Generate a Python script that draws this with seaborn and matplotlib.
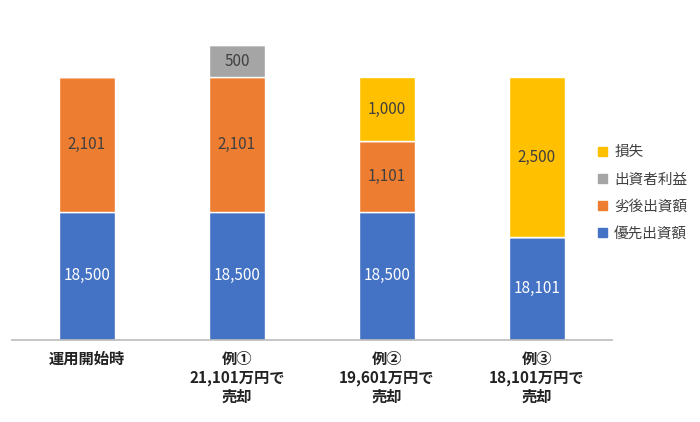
import matplotlib
matplotlib.use("Agg")
import matplotlib.pyplot as plt
import seaborn as sns
import numpy as np
import pandas as pd

categories = ["運用開始時", "例①\n21,101万円で\n売却", "例②\n19,601万円で\n売却", "例③\n18,101万円で\n売却"]
senior = [18500, 18500, 18500, 18101]
junior = [2101, 2101, 1101, 0]
profit = [0, 500, 0, 0]
loss = [0, 0, 1000, 2500]
series_names = ["優先出資額", "劣後出資額", "出資者利益", "損失"]
colors = ["#4472C4", "#ED7D31", "#A5A5A5", "#FFC000"]
text_colors = ["white", "#404040", "#404040", "#404040"]

sns.set_theme(style="white")
plt.rcParams['font.family'] = ['Noto Sans CJK JP', 'DejaVu Sans']

fig = plt.figure(figsize=(7, 4.22), dpi=100)
ax = fig.add_axes([12/700, 1-340/422, 600/700, (340-45)/422])

layers = [senior, junior, profit, loss]
bottom = np.zeros(len(categories))
handles = []
for vals, name, col, tc in zip(layers, series_names, colors, text_colors):
    vals = np.array(vals, dtype=float)
    df = pd.DataFrame({"cat": categories, "v": vals})
    sns.barplot(data=df, x="cat", y="v", bottom=bottom, color=col, width=0.37, ax=ax, saturation=1)
    for i, v in enumerate(vals):
        if v > 0:
            lo = max(bottom[i], 16500)
            ax.text(i, (lo + bottom[i] + v) / 2, f"{int(v):,}", ha="center", va="center",
                    color=tc, fontsize=11)
    handles.append(plt.Rectangle((0, 0), 1, 1, color=col))
    bottom = bottom + vals

ax.set_ylim(16500, 21101)
ax.set_xlim(-0.5, 3.5)
ax.set_yticks([])
ax.set_xlabel("")
ax.set_ylabel("")
for s in ["top", "right", "left"]:
    ax.spines[s].set_visible(False)
ax.spines["bottom"].set_color("#BFBFBF")
ax.set_xticks(range(4))
ax.set_xticklabels(categories, fontsize=11, fontweight="bold", color="#222222", linespacing=1.2)
ax.tick_params(axis="x", length=0, pad=8)

leg = fig.legend(handles[::-1], series_names[::-1], loc="center left", bbox_to_anchor=(585/700, 1-193/422),
                 frameon=False, fontsize=10.5, handlelength=0.6, handleheight=0.6, labelspacing=0.9, handletextpad=0.5)
for t in leg.get_texts():
    t.set_color("#404040")

fig.savefig("out.png", dpi=100)
